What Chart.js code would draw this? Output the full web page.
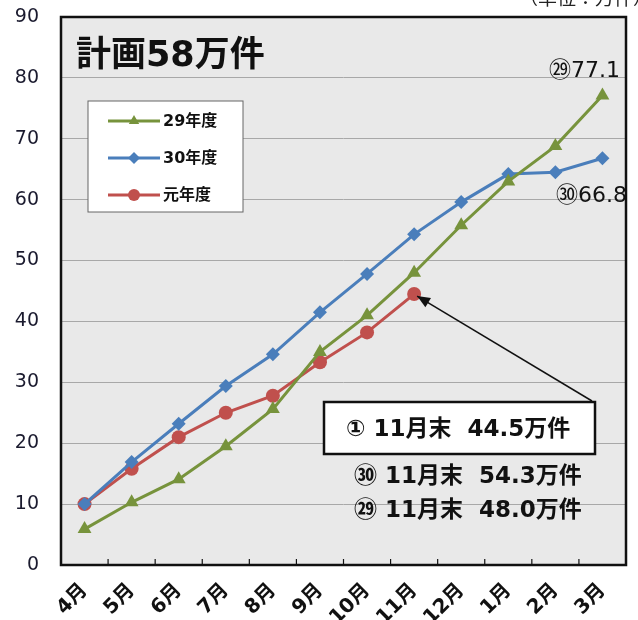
<!doctype html>
<html lang="ja">
<head>
<meta charset="utf-8" />
<script src="https://cdn.jsdelivr.net/npm/chart.js@4.4.1/dist/chart.umd.min.js"></script>
<style>
  html, body { margin: 0; padding: 0; background: #ffffff; }
  .wrap { width: 638px; height: 620px; position: relative; }
</style>
</head>
<body>
<div class="wrap"><canvas id="chart" width="638" height="620"></canvas></div>
<script>
// Monthly cumulative counts (万件)
const months = ['4月', '5月', '6月', '7月', '8月', '9月', '10月', '11月', '12月', '1月', '2月', '3月'];
const fy29 = [5.9, 10.3, 14.1, 19.5, 25.6, 35.0, 41.0, 48.0, 55.8, 63.0, 68.8, 77.1];
const fy30 = [10.0, 16.9, 23.2, 29.4, 34.6, 41.5, 47.8, 54.3, 59.6, 64.2, 64.5, 66.8];
const fyR1 = [10.0, 15.8, 21.0, 25.0, 27.8, 33.3, 38.2, 44.5];
const yTicks = [0, 10, 20, 30, 40, 50, 60, 70, 80, 90];

const GREEN = '#77933C';
const BLUE = '#4A7EBB';
const RED = '#C0504D';
const JP = '"Noto Sans CJK JP", "Noto Sans", sans-serif';
const MIX = '"DejaVu Sans", "Noto Sans CJK JP", sans-serif';

const decor = {
  id: 'decor',
  beforeDraw(chart) {
    const { ctx, chartArea: a } = chart;
    ctx.save();
    ctx.fillStyle = '#e9e9e9';
    ctx.fillRect(a.left, a.top, a.right - a.left, a.bottom - a.top);
    ctx.restore();
  },
  afterDatasetsDraw(chart) {
    const { ctx, chartArea: a, scales } = chart;
    ctx.save();
    // plot border
    ctx.strokeStyle = '#111';
    ctx.lineWidth = 2.5;
    ctx.strokeRect(a.left, a.top, a.right - a.left, a.bottom - a.top);

    // small x tick marks inside the plot
    ctx.lineWidth = 1.2;
    for (let i = 1; i < months.length; i++) {
      const x = a.left + (a.right - a.left) * i / months.length;
      ctx.beginPath();
      ctx.moveTo(x, a.bottom);
      ctx.lineTo(x, a.bottom - 6);
      ctx.stroke();
    }

    // unit label (cut off at top)
    ctx.fillStyle = '#222';
    ctx.font = '19px ' + JP;
    ctx.textAlign = 'right';
    ctx.textBaseline = 'alphabetic';
    ctx.fillText('（単位：万件）', 652, 5);

    // plan title
    ctx.textAlign = 'left';
    ctx.font = 'bold 35px ' + MIX;
    ctx.fillStyle = '#111';
    ctx.fillText('計画58万件', 76, 66);

    // legend
    const lx = 88, ly = 101, lw = 155, lh = 111;
    ctx.fillStyle = '#fff';
    ctx.fillRect(lx, ly, lw, lh);
    ctx.strokeStyle = '#666';
    ctx.lineWidth = 1;
    ctx.strokeRect(lx, ly, lw, lh);
    const items = [
      { label: '29年度', color: GREEN, style: 'triangle' },
      { label: '30年度', color: BLUE, style: 'rectRot' },
      { label: '元年度', color: RED, style: 'circle' }
    ];
    items.forEach((it, i) => {
      const y = 121 + i * 37;
      ctx.strokeStyle = it.color;
      ctx.lineWidth = 3;
      ctx.beginPath();
      ctx.moveTo(108, y);
      ctx.lineTo(160, y);
      ctx.stroke();
      ctx.fillStyle = it.color;
      Chart.helpers.drawPoint(ctx, { pointStyle: it.style, radius: 6, borderWidth: 0 }, 134, y);
      ctx.fillStyle = '#111';
      ctx.font = 'bold 16px ' + MIX;
      ctx.textBaseline = 'middle';
      ctx.fillText(it.label, 163, y + 1);
    });

    // end value labels
    ctx.font = '22px ' + MIX;
    ctx.fillStyle = '#111';
    ctx.textBaseline = 'alphabetic';
    ctx.textAlign = 'right';
    ctx.fillText('㉙77.1', 620, 77);
    ctx.fillText('㉚66.8', 627, 202);

    // arrow from box to the current-year November point
    const tx = scales.x.getPixelForValue(7) + 3;
    const ty = scales.y.getPixelForValue(fyR1[7]) + 2;
    const sx = 592, sy = 401;
    ctx.strokeStyle = '#111';
    ctx.lineWidth = 1.5;
    ctx.beginPath();
    ctx.moveTo(sx, sy);
    ctx.lineTo(tx, ty);
    ctx.stroke();
    const ang = Math.atan2(ty - sy, tx - sx);
    ctx.fillStyle = '#111';
    ctx.beginPath();
    ctx.moveTo(tx, ty);
    ctx.lineTo(tx - 14 * Math.cos(ang - 0.4), ty - 14 * Math.sin(ang - 0.4));
    ctx.lineTo(tx - 14 * Math.cos(ang + 0.4), ty - 14 * Math.sin(ang + 0.4));
    ctx.closePath();
    ctx.fill();

    // highlighted box
    ctx.fillStyle = '#fff';
    ctx.fillRect(324, 402, 271, 52);
    ctx.strokeStyle = '#111';
    ctx.lineWidth = 2.5;
    ctx.strokeRect(324, 402, 271, 52);
    ctx.fillStyle = '#111';
    ctx.font = 'bold 23px ' + MIX;
    ctx.textAlign = 'left';
    ctx.textBaseline = 'middle';
    ctx.fillText('① 11月末  44.5万件', 346, 430);
    ctx.fillText('㉚ 11月末  54.3万件', 354, 477);
    ctx.fillText('㉙ 11月末  48.0万件', 354, 511);
    ctx.restore();
  }
};

new Chart(document.getElementById('chart'), {
  type: 'line',
  data: {
    labels: months,
    datasets: [
      { label: '29年度', data: fy29, borderColor: GREEN, backgroundColor: GREEN, pointStyle: 'triangle', pointRadius: 8, borderWidth: 3, pointBorderWidth: 0 },
      { label: '30年度', data: fy30, borderColor: BLUE, backgroundColor: BLUE, pointStyle: 'rectRot', pointRadius: 7, borderWidth: 3, pointBorderWidth: 0 },
      { label: '元年度', data: fyR1, borderColor: RED, backgroundColor: RED, pointStyle: 'circle', pointRadius: 7, borderWidth: 3, pointBorderWidth: 0 }
    ]
  },
  options: {
    responsive: false,
    animation: false,
    layout: { padding: { top: 17, right: 12, left: 0, bottom: 0 } },
    plugins: { legend: { display: false }, tooltip: { enabled: false } },
    scales: {
      x: {
        offset: true,
        grid: { display: false },
        border: { display: false },
        afterFit: s => { s.height = 55; },
        ticks: {
          minRotation: 45, maxRotation: 45, padding: 6,
          color: '#111',
          font: { family: MIX, size: 20, weight: 'bold' }
        }
      },
      y: {
        min: 0, max: 90,
        afterBuildTicks: s => { s.ticks = yTicks.map(v => ({ value: v })); },
        afterFit: s => { s.width = 61; },
        border: { display: false },
        grid: { color: '#a8a8a8', lineWidth: 1, drawTicks: true, tickLength: 18, tickColor: 'rgba(0,0,0,0)' },
        ticks: {
          padding: 4,
          color: '#1a1a2e',
          font: { family: '"DejaVu Sans", sans-serif', size: 19 }
        }
      }
    }
  },
  plugins: [decor]
});
</script>
</body>
</html>
